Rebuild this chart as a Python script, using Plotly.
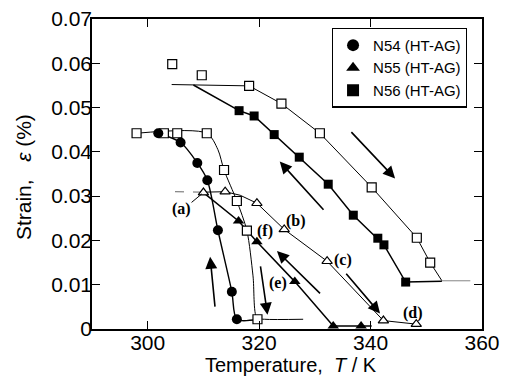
import plotly.graph_objects as go

# ---------------- data ----------------
# N54 cooling (filled circles)
n54_cool_T = [301.9, 305.9, 308.9, 310.7, 312.6, 315.1, 316.0]
n54_cool_s = [0.0442, 0.0421, 0.0375, 0.0336, 0.0223, 0.0084, 0.0022]
# N54 heating (open squares)
n54_heat_T = [298.0, 302.9, 305.3, 310.6, 313.7, 316.0, 317.8, 319.7]
n54_heat_s = [0.0442, 0.0442, 0.0442, 0.0442, 0.0359, 0.0289, 0.0222, 0.0022]
# N54 guide lines
n54_cool_line_T = [301.9, 305.9, 308.9, 310.7, 312.6, 315.1, 316.0, 319.7]
n54_cool_line_s = [0.0442, 0.0421, 0.0375, 0.0336, 0.0223, 0.0084, 0.0022, 0.0022]
n54_heat_line_T = [298.0, 310.6, 312.6, 313.7, 316.0, 317.8, 318.9, 319.6, 321.0, 327.9]
n54_heat_line_s = [0.0442, 0.0442, 0.0405, 0.0359, 0.0289, 0.0222, 0.0120, 0.0025, 0.0022, 0.0022]

# N55 cooling (filled triangles)
n55_cool_T = [316.3, 319.6, 326.4, 333.3, 338.3]
n55_cool_s = [0.0244, 0.0197, 0.0107, 0.0007, 0.0007]
# N55 heating (open triangles)
n55_heat_T = [310.0, 313.9, 319.6, 324.5, 332.2, 342.3, 348.2]
n55_heat_s = [0.0308, 0.0310, 0.0284, 0.0225, 0.0153, 0.0019, 0.0011]
n55_heat_line_T = [304.9, 310.0, 313.9, 316.6, 319.6, 324.5, 332.2, 342.3, 348.2]
n55_heat_line_s = [0.0310, 0.0309, 0.0310, 0.0302, 0.0284, 0.0225, 0.0153, 0.0019, 0.0011]
n55_cool_line_T = [310.0, 316.3, 319.6, 326.4, 333.3, 338.3, 340.2]
n55_cool_line_s = [0.0308, 0.0244, 0.0197, 0.0107, 0.0007, 0.0007, 0.0007]

# N56 cooling (filled squares)
n56_cool_T = [316.4, 319.1, 322.7, 327.2, 332.4, 336.9, 341.3, 342.4, 346.3]
n56_cool_s = [0.0493, 0.0481, 0.0439, 0.0388, 0.0327, 0.0257, 0.0205, 0.0190, 0.0106]
# N56 heating (open squares)
n56_heat_T = [304.4, 309.7, 318.2, 324.0, 330.9, 340.2, 348.3, 350.7]
n56_heat_s = [0.0598, 0.0573, 0.0549, 0.0509, 0.0442, 0.0320, 0.0206, 0.0150]
n56_cool_line_T = [308.2, 316.4, 319.1, 322.7, 327.2, 332.4, 336.9, 341.3, 342.4, 346.3, 352.8]
n56_cool_line_s = [0.0551, 0.0493, 0.0481, 0.0439, 0.0388, 0.0327, 0.0257, 0.0205, 0.0190, 0.0106, 0.0108]
n56_heat_line_T = [304.3, 318.2, 324.0, 330.9, 340.2, 348.3, 350.7, 352.8]
n56_heat_line_s = [0.0552, 0.0549, 0.0509, 0.0442, 0.0320, 0.0206, 0.0150, 0.0109]
n56_tail_T = [352.8, 357.9]
n56_tail_s = [0.0109, 0.0109]

# legend names
series_names = ["N54 (HT-AG)", "N55 (HT-AG)", "N56 (HT-AG)"]

# labels (a)-(f)
label_text = ["(a)", "(b)", "(c)", "(d)", "(e)", "(f)"]
label_T = [306.0, 326.7, 335.1, 347.6, 323.3, 321.1]
label_s = [0.0270, 0.0244, 0.0156, 0.0037, 0.0103, 0.0221]

# arrows: tail -> head
arrow_tail_T = [336.3, 331.8, 335.4, 331.2, 320.2, 312.1]
arrow_tail_s = [0.0448, 0.0266, 0.0128, 0.0077, 0.0145, 0.0047]
arrow_head_T = [344.4, 323.7, 341.7, 323.2, 321.5, 311.2]
arrow_head_s = [0.0340, 0.0378, 0.0035, 0.0176, 0.0032, 0.0163]

# axis ticks
x_ticks = [300, 320, 340, 360]
y_ticks = [0, 0.01, 0.02, 0.03, 0.04, 0.05, 0.06, 0.07]
y_tick_text = ["0", "0.01", "0.02", "0.03", "0.04", "0.05", "0.06", "0.07"]

# ---------------- figure ----------------
fig = go.Figure()
BLACK = "black"

def line(x, y, w, color=BLACK, shape="linear", dash=None):
    fig.add_trace(go.Scatter(x=x, y=y, mode="lines", showlegend=False, hoverinfo="skip",
                             line=dict(color=color, width=w, shape=shape, dash=dash,
                                       smoothing=0.8 if shape == "spline" else None)))

# guide lines
line(n54_heat_line_T, n54_heat_line_s, 1.0, shape="spline")
line(n54_cool_line_T, n54_cool_line_s, 1.4, shape="spline")
line(n55_heat_line_T[:2], n55_heat_line_s[:2], 1.0, color="#666", dash="dash")
line(n55_heat_line_T[1:], n55_heat_line_s[1:], 1.0)
line(n55_cool_line_T, n55_cool_line_s, 1.5)
line(n56_heat_line_T, n56_heat_line_s, 1.0)
line(n56_cool_line_T, n56_cool_line_s, 1.5)
line(n56_tail_T, n56_tail_s, 1.2, color="#999")

# open (heating) markers
def opens(x, y, sym):
    fig.add_trace(go.Scatter(x=x, y=y, mode="markers", showlegend=False,
                             marker=dict(symbol=sym, size=9, color="white",
                                         line=dict(color=BLACK, width=1.2))))

opens(n54_heat_T, n54_heat_s, "square")
opens(n55_heat_T, n55_heat_s, "triangle-up")
opens(n56_heat_T, n56_heat_s, "square")

# filled (cooling) markers with legend
fig.add_trace(go.Scatter(x=n54_cool_T, y=n54_cool_s, mode="markers", name=series_names[0],
                         marker=dict(symbol="circle", size=10, color=BLACK)))
fig.add_trace(go.Scatter(x=n55_cool_T, y=n55_cool_s, mode="markers", name=series_names[1],
                         marker=dict(symbol="triangle-up", size=10, color=BLACK)))
fig.add_trace(go.Scatter(x=n56_cool_T, y=n56_cool_s, mode="markers", name=series_names[2],
                         marker=dict(symbol="square", size=9, color=BLACK)))

annotations = []
for t, x, y in zip(label_text, label_T, label_s):
    annotations.append(dict(x=x, y=y, xref="x", yref="y", text="<b>" + t + "</b>", showarrow=False,
                            font=dict(family="Liberation Serif, Times New Roman, serif", size=16, color=BLACK)))
for tx, ty, hx, hy in zip(arrow_tail_T, arrow_tail_s, arrow_head_T, arrow_head_s):
    annotations.append(dict(x=hx, y=hy, ax=tx, ay=ty, xref="x", yref="y", axref="x", ayref="y",
                            text="", showarrow=True, arrowhead=2, arrowsize=1.5, arrowwidth=1.6,
                            arrowcolor=BLACK))
# leader line for (a)
annotations.append(dict(x=309.7, y=0.0305, ax=307.6, ay=0.0283, xref="x", yref="y", axref="x", ayref="y",
                        text="", showarrow=True, arrowhead=0, arrowwidth=1, arrowcolor=BLACK))
# axis titles
annotations.append(dict(x=0.51, y=-0.115, xref="paper", yref="paper", showarrow=False,
                        text="Temperature,&nbsp;&nbsp;<i>T</i> / K", font=dict(size=20, color=BLACK),
                        yanchor="middle", xanchor="center"))
annotations.append(dict(x=-0.177, y=0.49, xref="paper", yref="paper", showarrow=False, textangle=-90,
                        text="Strain,&nbsp;&nbsp;&nbsp;<i>ε</i> (%)", font=dict(size=21, color=BLACK),
                        xanchor="center", yanchor="middle"))

fig.update_layout(
    width=508, height=376,
    margin=dict(l=92, r=26, t=19, b=47, autoexpand=False),
    paper_bgcolor="white", plot_bgcolor="white",
    font=dict(family="Liberation Sans, Arial, sans-serif", color=BLACK),
    annotations=annotations,
    legend=dict(x=0.615, y=0.972, xanchor="left", yanchor="top",
                bgcolor="white", bordercolor=BLACK, borderwidth=1.2,
                font=dict(size=15, color=BLACK), itemsizing="constant",
                tracegroupgap=0, itemwidth=30),
    xaxis=dict(range=[290, 360], tickvals=x_ticks, ticks="inside", ticklen=8, tickwidth=1.2,
               showline=True, linecolor=BLACK, linewidth=1.5, mirror="ticks", showgrid=False,
               zeroline=False, tickfont=dict(size=21, color=BLACK), tickcolor=BLACK,
               ticklabelstandoff=-6, automargin=False, ticklabeloverflow="allow"),
    yaxis=dict(range=[0, 0.07], tickvals=y_ticks, ticktext=y_tick_text, ticks="inside", ticklen=8,
               tickwidth=1.2, showline=True, linecolor=BLACK, linewidth=1.5, mirror="ticks",
               showgrid=False, zeroline=False, tickfont=dict(size=21, color=BLACK), tickcolor=BLACK,
               ticklabelstandoff=-6, automargin=False, ticklabeloverflow="allow"),
)

# remove the page's default body margin so the 508x376 figure fills the window exactly
fig.write_html("out.html", config={"displayModeBar": False},
               post_script="document.body.style.margin='0';")
